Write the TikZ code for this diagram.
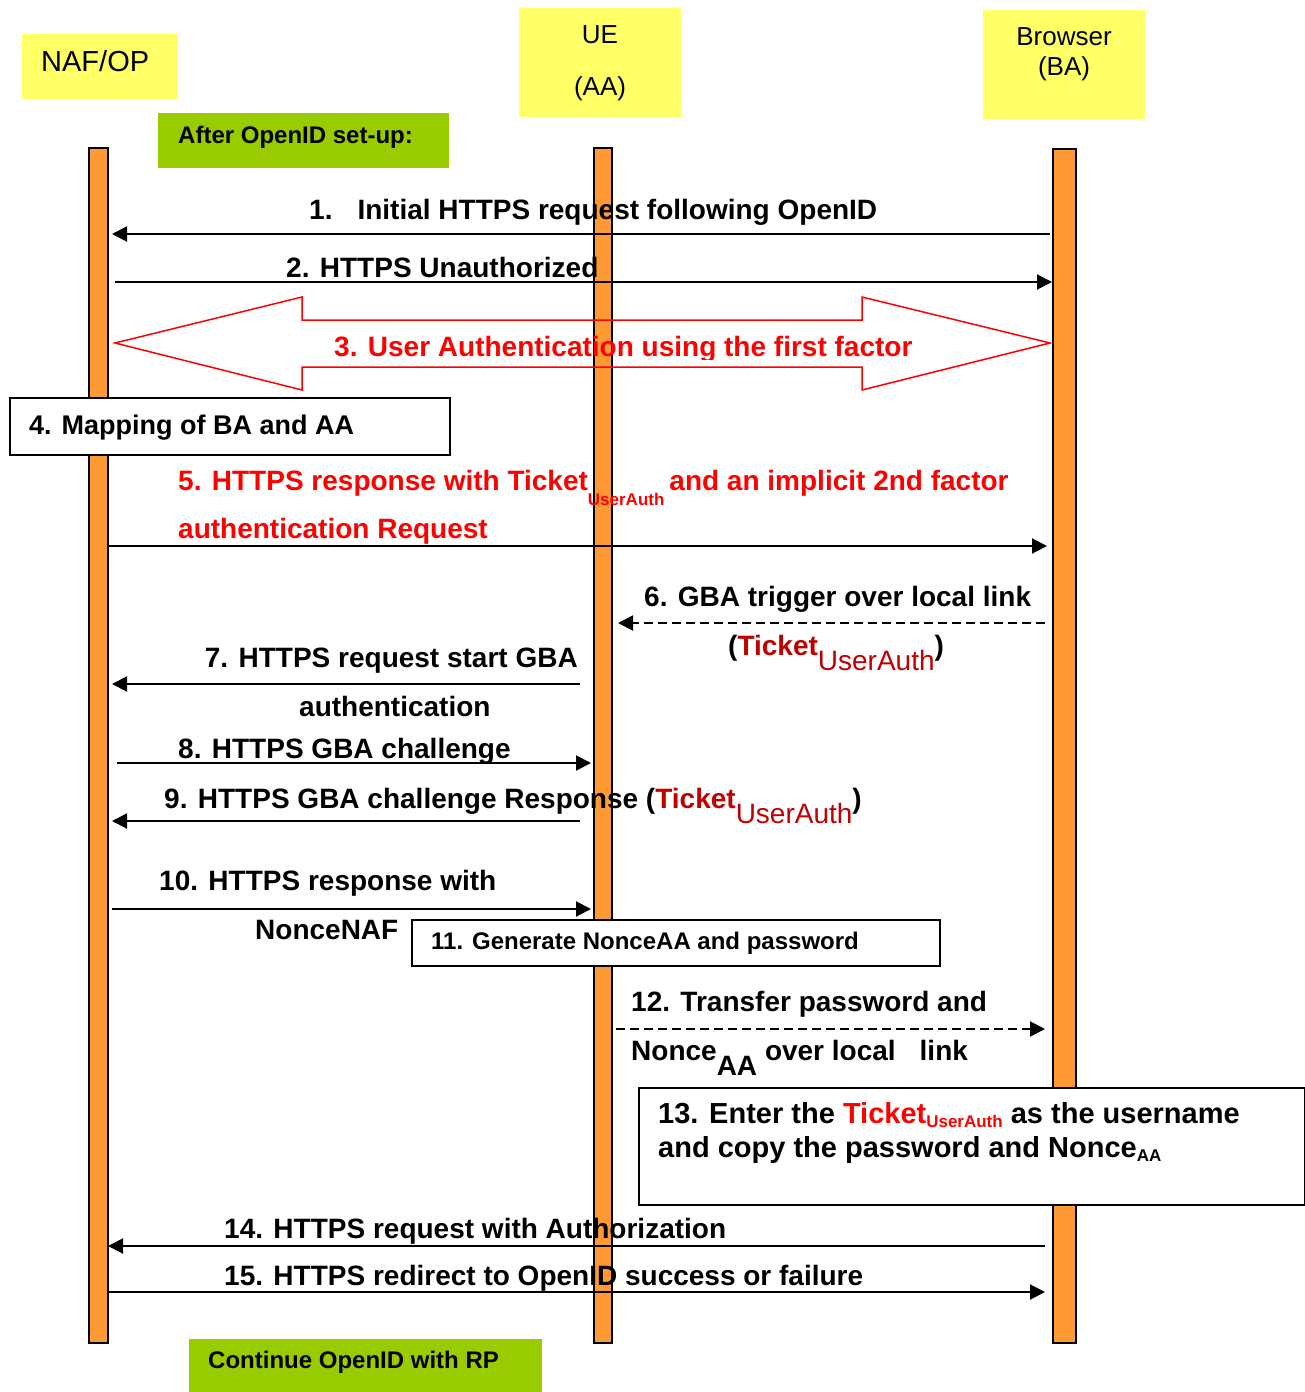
\documentclass[tikz,border=0pt]{standalone}
\usepackage{fontspec}
\setmainfont{Liberation Sans}
\usetikzlibrary{arrows.meta}
\definecolor{lifeor}{HTML}{FF9933}
\definecolor{actyel}{HTML}{FFFF66}
\definecolor{phgreen}{HTML}{99CC00}
\definecolor{tred}{HTML}{C00000}
\newcommand{\fsz}[1]{\fontsize{#1}{#1}\selectfont}
\begin{document}
\begin{tikzpicture}[x=1pt,y=-1pt,
  lbl/.style={anchor=base west, inner sep=0pt, font=\fsz{28}\bfseries},
  msg/.style={line width=2pt, -{Triangle[length=15pt,width=15pt]}},
  dmsg/.style={msg, dash pattern=on 9pt off 5pt},
  lifebar/.style={draw=black, line width=1.5pt, fill=lifeor, inner sep=0pt, anchor=north west},
  actorbox/.style={fill=actyel, inner sep=0pt, anchor=north west},
  phasebox/.style={fill=phgreen, inner sep=0pt, anchor=north west},
  stepbox/.style={draw=black, line width=1.5pt, fill=white, inner sep=0pt, anchor=north west}]
\useasboundingbox (0,0) rectangle (1305,1392);

% actors
\node[actorbox, minimum width=156pt, minimum height=65pt] (nafbox) at (22,34) {};
\node[actorbox, minimum width=162pt, minimum height=109pt] (uebox) at (519,8) {};
\node[actorbox, minimum width=162pt, minimum height=109pt] (babox) at (983,10) {};
\node[anchor=base west, inner sep=0pt, font=\fsz{29}] (naft) at (41,71) {NAF/OP};
\node[anchor=base, inner sep=0pt, font=\fsz{26}] (uet1) at (600,43) {UE};
\node[anchor=base, inner sep=0pt, font=\fsz{26}] (uet2) at (600,95) {(AA)};
\node[anchor=base, inner sep=0pt, font=\fsz{26}] (bat1) at (1064,45) {Browser};
\node[anchor=base, inner sep=0pt, font=\fsz{26}] (bat2) at (1064,75) {(BA)};

% phases
\node[phasebox, minimum width=291pt, minimum height=55pt] (ph1) at (158,113) {};
\node[anchor=base west, inner sep=0pt, font=\fsz{24}\bfseries] (ph1t) at (178,143) {After OpenID set-up:};
\node[phasebox, minimum width=353pt, minimum height=53pt] (ph2) at (189,1339) {};
\node[anchor=base west, inner sep=0pt, font=\fsz{24}\bfseries] (ph2t) at (208,1368) {Continue OpenID with RP};

% lifelines
\node[lifebar, minimum width=19pt, minimum height=1195pt] (nafl) at (88,147) {};
\node[lifebar, minimum width=18pt, minimum height=1195pt] (uel) at (593,147) {};
\node[lifebar, minimum width=23pt, minimum height=1194pt] (bal) at (1052,148) {};

% coordinates for messages
\coordinate (m1s) at (1050,234); \coordinate (m1e) at (112,234);
\coordinate (m2s) at (115,282);  \coordinate (m2e) at (1052,282);
\coordinate (m5s) at (108,546);  \coordinate (m5e) at (1047,546);
\coordinate (m6s) at (1045,623); \coordinate (m6e) at (618,623);
\coordinate (m7s) at (580,684);  \coordinate (m7e) at (112,684);
\coordinate (m8s) at (117,763);  \coordinate (m8e) at (591,763);
\coordinate (m9s) at (580,821);  \coordinate (m9e) at (112,821);
\coordinate (m10s) at (112,909); \coordinate (m10e) at (591,909);
\coordinate (m12s) at (616,1029); \coordinate (m12e) at (1045,1029);
\coordinate (m14s) at (1045,1246); \coordinate (m14e) at (108,1246);
\coordinate (m15s) at (108,1292); \coordinate (m15e) at (1045,1292);

% 1
\draw[msg] (m1s) -- (m1e);
\node[lbl] (t1) at (309,219) {1.\hspace{25pt}Initial HTTPS request following OpenID};
% 2
\draw[msg] (m2s) -- (m2e);
\node[lbl] (t2) at (286,277) {2. HTTPS Unauthorized};
% 3
\draw[red, line width=1.5pt, line join=miter] (115,343) -- (302,297) -- (302,320) -- (862,320) -- (862,297) -- (1050,343) -- (862,390) -- (862,367) -- (302,367) -- (302,390) -- cycle;
\begin{scope}
\clip (0,0) rectangle (1305,359);
\node[lbl, text=red] (t3) at (334,356) {3. User Authentication using the first factor};
\end{scope}
% 4
\node[stepbox, minimum width=440pt, minimum height=57pt] (b4) at (9,397) {};
\node[anchor=base west, inner sep=0pt, font=\fsz{27}\bfseries] (t4) at (29,434) {4. Mapping of BA and AA};
% 5
\node[lbl, text=red] (t5a) at (178,490) {5. HTTPS response with Ticket\raisebox{-15pt}{\fsz{17}UserAuth}\hspace{5pt}and an implicit 2nd factor};
\node[lbl, text=red] (t5b) at (178,538) {authentication Request};
\draw[msg] (m5s) -- (m5e);
% 6
\node[lbl] (t6a) at (644,606) {6. GBA trigger over local link};
\draw[dmsg] (m6s) -- (m6e);
\node[lbl] (t6b) at (728,655) {(\textcolor{tred}{Ticket}\raisebox{-15pt}{\textcolor{tred}{\mdseries UserAuth}})};
% 7
\node[lbl, anchor=base east] (t7a) at (578,667) {7. HTTPS request start GBA};
\draw[msg] (m7s) -- (m7e);
\node[lbl] (t7b) at (299,716) {authentication};
% 8
\node[lbl] (t8) at (178,758) {8. HTTPS GBA challenge};
\draw[msg] (m8s) -- (m8e);
% 9
\node[lbl] (t9) at (164,808) {9. HTTPS GBA challenge Response (\textcolor{tred}{Ticket}\raisebox{-15pt}{\textcolor{tred}{\mdseries UserAuth}})};
\draw[msg] (m9s) -- (m9e);
% 10
\node[lbl] (t10a) at (159,890) {10. HTTPS response with};
\draw[msg] (m10s) -- (m10e);
\node[lbl] (t10b) at (255,939) {NonceNAF};
% 11
\node[stepbox, minimum width=528pt, minimum height=46pt] (b11) at (411,919) {};
\node[anchor=base west, inner sep=0pt, font=\fsz{24}\bfseries] (t11) at (431,949) {11. Generate NonceAA and password};
% 12
\node[lbl] (t12a) at (631,1011) {12. Transfer password and};
\draw[dmsg] (m12s) -- (m12e);
\node[lbl] (t12b) at (631,1060) {Nonce\raisebox{-15pt}{AA} over local\hspace{24pt}link};
% 13
\node[stepbox, minimum width=666pt, minimum height=117pt] (b13) at (638,1087) {};
\node[anchor=base west, inner sep=0pt, font=\fsz{29}\bfseries] (t13a) at (658,1123) {13. Enter the \textcolor{red}{Ticket\raisebox{-4pt}{\fsz{17}UserAuth}} as the username};
\node[anchor=base west, inner sep=0pt, font=\fsz{29}\bfseries] (t13b) at (658,1157) {and copy the password and Nonce\raisebox{-4pt}{\fsz{17}AA}};
% 14
\node[lbl] (t14) at (224,1238) {14. HTTPS request with Authorization};
\draw[msg] (m14s) -- (m14e);
% 15
\node[lbl] (t15) at (224,1285) {15. HTTPS redirect to OpenID success or failure};
\draw[msg] (m15s) -- (m15e);
\end{tikzpicture}
\end{document}
